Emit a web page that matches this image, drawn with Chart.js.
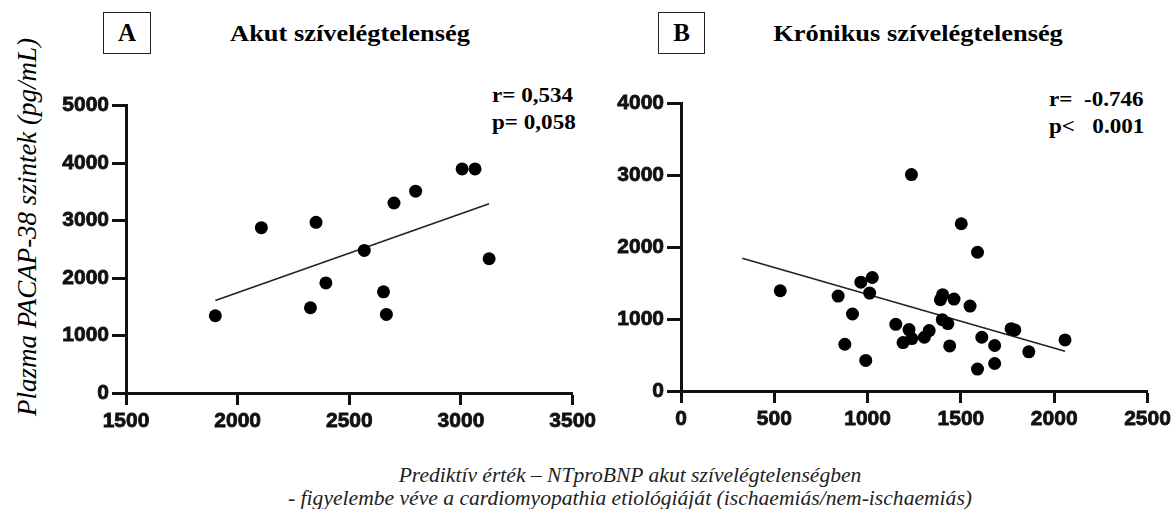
<!DOCTYPE html>
<html>
<head>
<meta charset="utf-8">
<script src="https://cdn.jsdelivr.net/npm/chart.js@4.4.1/dist/chart.umd.min.js"></script>
<style>
body { margin: 0; background: #fff; width: 1175px; height: 509px; position: relative; overflow: hidden; }
.abs { position: absolute; }
.box { position: absolute; border: 1.5px solid #222; font: bold 25px "Liberation Serif", serif; text-align: center; line-height: 40px; box-sizing: border-box; }
.title { position: absolute; font: bold 24px "Liberation Serif", serif; white-space: nowrap; transform: translateX(-50%) scaleX(1.1); line-height: 26px; }
.stat { position: absolute; font: bold 22px "Liberation Serif", serif; white-space: pre; line-height: 26.5px; transform: scaleX(1.05); transform-origin: left top; }
.ytitle { position: absolute; left: 27px; top: 227px; font: italic 27px "Liberation Serif", serif; white-space: nowrap; transform: translate(-50%, -50%) rotate(-90deg); }
.cap { position: absolute; left: 630px; transform: translateX(-50%); font: italic 21.6px "Liberation Serif", serif; white-space: nowrap; line-height: 24px; color: #222; }
</style>
</head>
<body>

<div class="box" style="left:103px;top:12px;width:48px;height:42px;">A</div>
<div class="title" style="left:350px;top:20px;">Akut szívelégtelenség</div>
<div class="box" style="left:658px;top:12px;width:47px;height:42px;">B</div>
<div class="title" style="left:918px;top:20px;">Krónikus szívelégtelenség</div>

<div class="stat" style="left:492px;top:82px;">r= 0,534
p= 0,058</div>
<div class="stat" style="left:1049px;top:86px;">r=  -0.746
p&lt;   0.001</div>

<div class="ytitle">Plazma PACAP-38 szintek (pg/mL)</div>

<div class="cap" style="top:463px;">Prediktív érték – NTproBNP akut szívelégtelenségben</div>
<div class="cap" style="top:486px;">- figyelembe véve a cardiomyopathia etiológiáját (ischaemiás/nem-ischaemiás)</div>

<canvas id="chartA" class="abs" width="560" height="343" style="left:40px;top:90px;"></canvas>
<canvas id="chartB" class="abs" width="585" height="343" style="left:590px;top:88px;"></canvas>

<script>

// A - akut
const acuteX = [1900, 2106, 2351, 2326, 2395, 2567, 2653, 2666, 2700, 2797, 3005, 3063, 3126];
const acuteY = [1344, 2877, 2970, 1483, 1915, 2480, 1760, 1367, 3305, 3512, 3898, 3898, 2336];
const acuteFitX = [1900, 3126];
const acuteFitY = [1609, 3293];

// B - kronikus
const chronicX = [532, 842, 878, 919, 964, 1025, 1011, 990, 1151, 1190, 1222, 1235, 1237, 1304, 1330,
    1390, 1402, 1463, 1400, 1430, 1440, 1502, 1549, 1589, 1612, 1589, 1681, 1681, 1769, 1789, 1864, 2058];
const chronicY = [1395, 1321, 651, 1072, 1515, 1580, 1363, 425, 928, 674, 855, 3012, 730, 748, 841,
    1270, 1340, 1279, 993, 938, 628, 2328, 1182, 1931, 748, 305, 633, 383, 868, 850, 545, 711];
const chronicFitX = [328, 2058];
const chronicFitY = [1848, 554];

const xTicksA = [1500, 2000, 2500, 3000, 3500];
const yTicksA = [0, 1000, 2000, 3000, 4000, 5000];
const xTicksB = [0, 500, 1000, 1500, 2000, 2500];
const yTicksB = [0, 1000, 2000, 3000, 4000];

function pts(xs, ys) {
    return xs.map((x, i) => ({ x: x, y: ys[i] }));
}

function axis(ticks, pos, size) {

    const left = pos == "left";

    return {
        type: "linear",
        position: pos,
        min: ticks[0],
        max: ticks[ticks.length - 1],
        afterBuildTicks: s => { s.ticks = ticks.map(v => ({ value: v })); },
        afterFit: s => {
            if (left) s.width = size;
            else s.height = size;
        },
        border: { display: true, color: "#111", width: 3 },
        grid: {
            display: true, drawOnChartArea: false, drawTicks: true,
            tickLength: left ? 14 : 12, tickWidth: 3, tickColor: "#111"
        },
        ticks: {
            autoSkip: false,
            maxRotation: 0,
            color: "#111",
            textStrokeColor: "#111",
            textStrokeWidth: 0.8,
            padding: left ? 3 : 4,
            callback: v => String(v),
            font: { family: "Liberation Sans", weight: "bold", size: 21 }
        }
    };

}

function draw(id, xs, ys, fx, fy, xt, yt, yw, pad, r) {

    new Chart(document.getElementById(id), {

        type: "scatter",

        data: {
            datasets: [
                {
                    data: pts(xs, ys),
                    backgroundColor: "#000",
                    borderWidth: 0,
                    pointRadius: r
                },
                {
                    data: pts(fx, fy),
                    showLine: true,
                    borderColor: "#222",
                    borderWidth: 1.7,
                    pointRadius: 0
                }
            ]
        },

        options: {
            responsive: false,
            animation: false,
            layout: { autoPadding: false, padding: pad },
            plugins: { legend: { display: false }, tooltip: { enabled: false } },
            scales: {
                x: axis(xt, "bottom", 40),
                y: axis(yt, "left", yw)
            }
        }

    });

}

draw("chartA", acuteX, acuteY, acuteFitX, acuteFitY, xTicksA, yTicksA, 86,
    { top: 14, right: 24, left: 0, bottom: 0 }, 6.5);

draw("chartB", chronicX, chronicY, chronicFitX, chronicFitY, xTicksB, yTicksB, 91,
    { top: 14, right: 27.5, left: 0, bottom: 0 }, 6.5);

</script>
</body>
</html>
